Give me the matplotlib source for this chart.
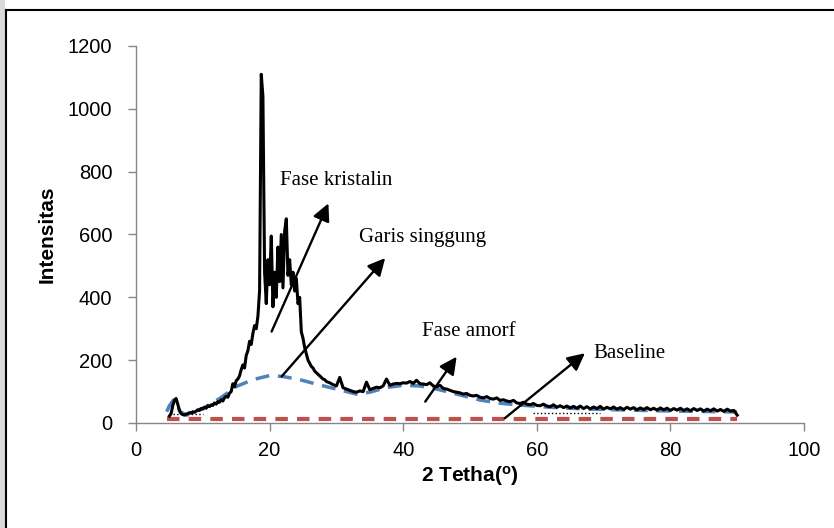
import numpy as np
import matplotlib
matplotlib.use("Agg")
import matplotlib.pyplot as plt
from matplotlib.patches import Rectangle
from matplotlib.lines import Line2D

# ---- data ----
# XRD pattern, 5..30 deg (step 0.25)
y_scan_a = [22, 30, 55, 72, 78, 60, 40, 30, 27, 25,
            28, 30, 33, 31, 36, 34, 38, 42, 40, 46,
            44, 50, 47, 55, 52, 58, 56, 64, 60, 68,
            66, 74, 70, 80, 85, 82, 95, 100, 125, 115,
            135, 140, 150, 170, 185, 175, 215, 230, 260, 250,
            285, 310, 300, 340, 420, 1110, 1040, 480, 380, 520,
            440, 595, 370, 480, 400, 560, 450, 600, 430, 610,
            650, 470, 520, 440, 480, 420, 460, 380, 400, 290,
            270, 240, 220, 200, 190, 180, 175, 165, 160, 155,
            150, 145, 140, 138, 132, 130, 128, 125, 122, 120,
            118]
# XRD pattern, 30.5..90 deg (step 0.5)
y_scan_b = [145, 112, 108, 104, 100, 98, 102, 100, 130, 106,
            110, 114, 112, 118, 140, 120, 124, 126, 125, 128,
            127, 132, 126, 136, 125, 124, 122, 128, 118, 115,
            120, 110, 108, 104, 100, 98, 96, 92, 94, 88,
            86, 88, 82, 80, 84, 78, 76, 80, 72, 74,
            70, 68, 72, 64, 62, 66, 60, 58, 62, 56,
            55, 60, 54, 52, 58, 50, 55, 49, 54, 48,
            53, 47, 54, 46, 52, 45, 51, 46, 53, 44,
            50, 45, 51, 44, 49, 43, 50, 44, 49, 42,
            48, 43, 49, 42, 47, 41, 48, 42, 47, 40,
            46, 41, 47, 40, 45, 39, 46, 40, 45, 38,
            44, 39, 45, 38, 43, 37, 44, 38, 40, 25]
x_scan_a = np.linspace(5, 30, len(y_scan_a))
x_scan_b = np.linspace(30.5, 90, len(y_scan_b))

# tangent line (garis singgung)
x_tan = [4.6, 5.0, 5.6, 6.1, 6.6, 7.6, 9.0, 10.5, 12.6, 15.0, 17.5, 20.0, 22.0, 24.5,
         27.5, 30.0, 31.5, 33.0, 35.0, 37.5, 40.0, 42.5, 45.0, 48.0, 51.5, 54.5,
         57.5, 62.0, 67.0, 72.0, 78.0, 84.0, 90.0]
y_tan = [36, 55, 73, 60, 36, 25, 38, 52, 79, 116, 138, 151, 148, 138,
         121, 108, 100, 92, 98, 113, 120, 118, 108, 92, 73, 63,
         57, 50, 45, 42, 39, 37, 35]

# baseline
x_base = [4.6, 90.0]
y_base = [12, 12]

# annotations: (text, text x, text y, arrow tail x, tail y, arrow head x, head y)
labels = ["Fase kristalin", "Garis singgung", "Fase amorf", "Baseline"]
label_xy = [(21.6, 773), (33.4, 589), (42.8, 290), (68.4, 220)]
arrow_tail = [(20.3, 291), (21.8, 148), (43.3, 68), (55.2, 15)]
arrow_head = [(28.8, 699), (37.3, 525), (48.0, 211), (67.2, 222)]

x_ticks = [0, 20, 40, 60, 80, 100]
y_ticks = [0, 200, 400, 600, 800, 1000, 1200]

# ---- figure ----
plt.rcParams["mathtext.default"] = "regular"
fig = plt.figure(figsize=(8.34, 5.28), dpi=100)
fig.patch.set_facecolor("white")
ax = fig.add_axes([136 / 834, 1 - 423 / 528, (804 - 136) / 834, (423 - 46) / 528])

gray = "#868686"
ax.plot(x_base, y_base, color="#C0504D", lw=3, dashes=(3, 2.2), zorder=2)
ax.plot(x_tan, y_tan, color="#4F81BD", lw=2.5, dashes=(4, 2.5), zorder=2)
ax.plot(np.concatenate([x_scan_a, x_scan_b]), y_scan_a + y_scan_b,
        color="black", lw=2.2, zorder=3)
ax.plot([5.5, 10], [28, 28], color="black", lw=1, ls=":", zorder=2)
ax.plot([59.5, 69.5], [32, 32], color="black", lw=1, ls=":", zorder=2)

for t, (tx, ty), (ax0, ay0), (hx, hy) in zip(labels, label_xy, arrow_tail, arrow_head):
    ax.annotate("", xy=(hx, hy), xytext=(ax0, ay0),
                arrowprops=dict(arrowstyle="-|>", mutation_scale=26, lw=1.7,
                                color="black", shrinkA=0, shrinkB=0), zorder=4)
    ax.text(tx, ty, t, family="Liberation Serif", fontsize=15, va="center",
            ha="left", zorder=5)

ax.set_xlim(0, 100)
ax.set_ylim(0, 1200)
ax.set_xticks(x_ticks)
ax.set_yticks(y_ticks)
for s in ["top", "right"]:
    ax.spines[s].set_visible(False)
for s in ["left", "bottom"]:
    ax.spines[s].set_color(gray)
    ax.spines[s].set_linewidth(1)
ax.tick_params(direction="out", length=6, width=1, color=gray,
               labelsize=14.5, labelfontfamily="Liberation Sans")
ax.tick_params(axis="y", pad=11)
ax.tick_params(axis="x", pad=7)

ax.set_xlabel("2 Tetha($^{o}$)", family="Liberation Sans", fontsize=15,
              fontweight="bold", labelpad=3)
ax.set_ylabel("Intensitas", family="Liberation Sans", fontsize=15,
              fontweight="bold", labelpad=8)

# outer chart frame
fig.add_artist(Rectangle((0, 0), 5 / 834, 1, transform=fig.transFigure,
                         facecolor="#d9d9d9", edgecolor="none"))
fig.add_artist(Line2D([6 / 834, 6 / 834], [0, 1 - 10 / 528], transform=fig.transFigure,
                      color="black", lw=1.5))
fig.add_artist(Line2D([6 / 834, 1], [1 - 10 / 528, 1 - 10 / 528], transform=fig.transFigure,
                      color="black", lw=1.5))

fig.savefig("out.png", dpi=100)
